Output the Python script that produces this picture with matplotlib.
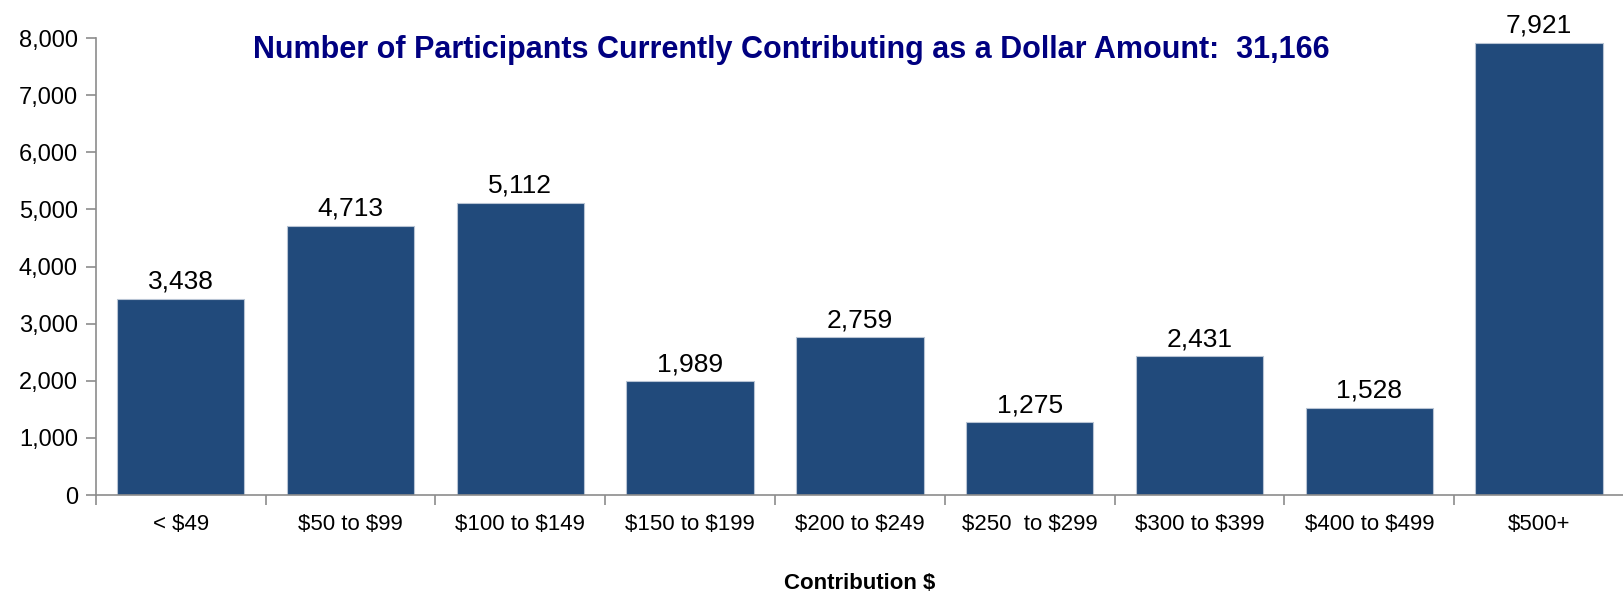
import matplotlib.pyplot as plt
import numpy as np
from matplotlib.ticker import FuncFormatter

plt.rcParams['font.family'] = ['Liberation Sans', 'DejaVu Sans']
plt.rcParams['text.parse_math'] = False

categories = ["< $49", "$50 to $99", "$100 to $149", "$150 to $199", "$200 to $249",
              "$250  to $299", "$300 to $399", "$400 to $499", "$500+"]
participants = [3438, 4713, 5112, 1989, 2759, 1275, 2431, 1528, 7921]
total = 31166

fig = plt.figure(figsize=(16.24, 5.95), dpi=100)
ax = fig.add_axes([0.059, 0.168, 0.941, 0.768])

x = np.arange(len(categories))
bars = ax.bar(x, participants, width=0.75, color="#214A7B", edgecolor="#B8C4D4", linewidth=0.8)

for xi, v in zip(x, participants):
    ax.text(xi, v + 90, f"{v:,}", ha="center", va="bottom", fontsize=19, color="black")

ax.set_xlim(-0.5, len(categories) - 0.5)
ax.set_ylim(0, 8000)
ax.set_yticks(range(0, 8001, 1000))
ax.yaxis.set_major_formatter(FuncFormatter(lambda v, p: f"{int(v):,}"))

# ticks on category boundaries, labels in the middle
ax.set_xticks(np.arange(-0.5, len(categories) - 0.4, 1.0))
ax.set_xticklabels([])
ax.set_xticks(x, minor=True)
ax.set_xticklabels(categories, minor=True)
ax.tick_params(axis="x", which="minor", length=0, labelsize=16, pad=14)
ax.tick_params(axis="x", which="major", length=7, color="#8C8C8C", width=1.2)
ax.tick_params(axis="y", length=7, color="#8C8C8C", width=1.2, labelsize=17, pad=6)

for side in ["top", "right"]:
    ax.spines[side].set_visible(False)
for side in ["left", "bottom"]:
    ax.spines[side].set_color("#8C8C8C")
    ax.spines[side].set_linewidth(1.2)

ax.set_xlabel("Contribution $", fontsize=16, fontweight="bold", labelpad=27)
ax.text(0.455, 0.975, f"Number of Participants Currently Contributing as a Dollar Amount:  {total:,}",
        transform=ax.transAxes, ha="center", va="center", fontsize=22, fontweight="bold",
        color="#000080")

fig.savefig("out.png", dpi=100)
